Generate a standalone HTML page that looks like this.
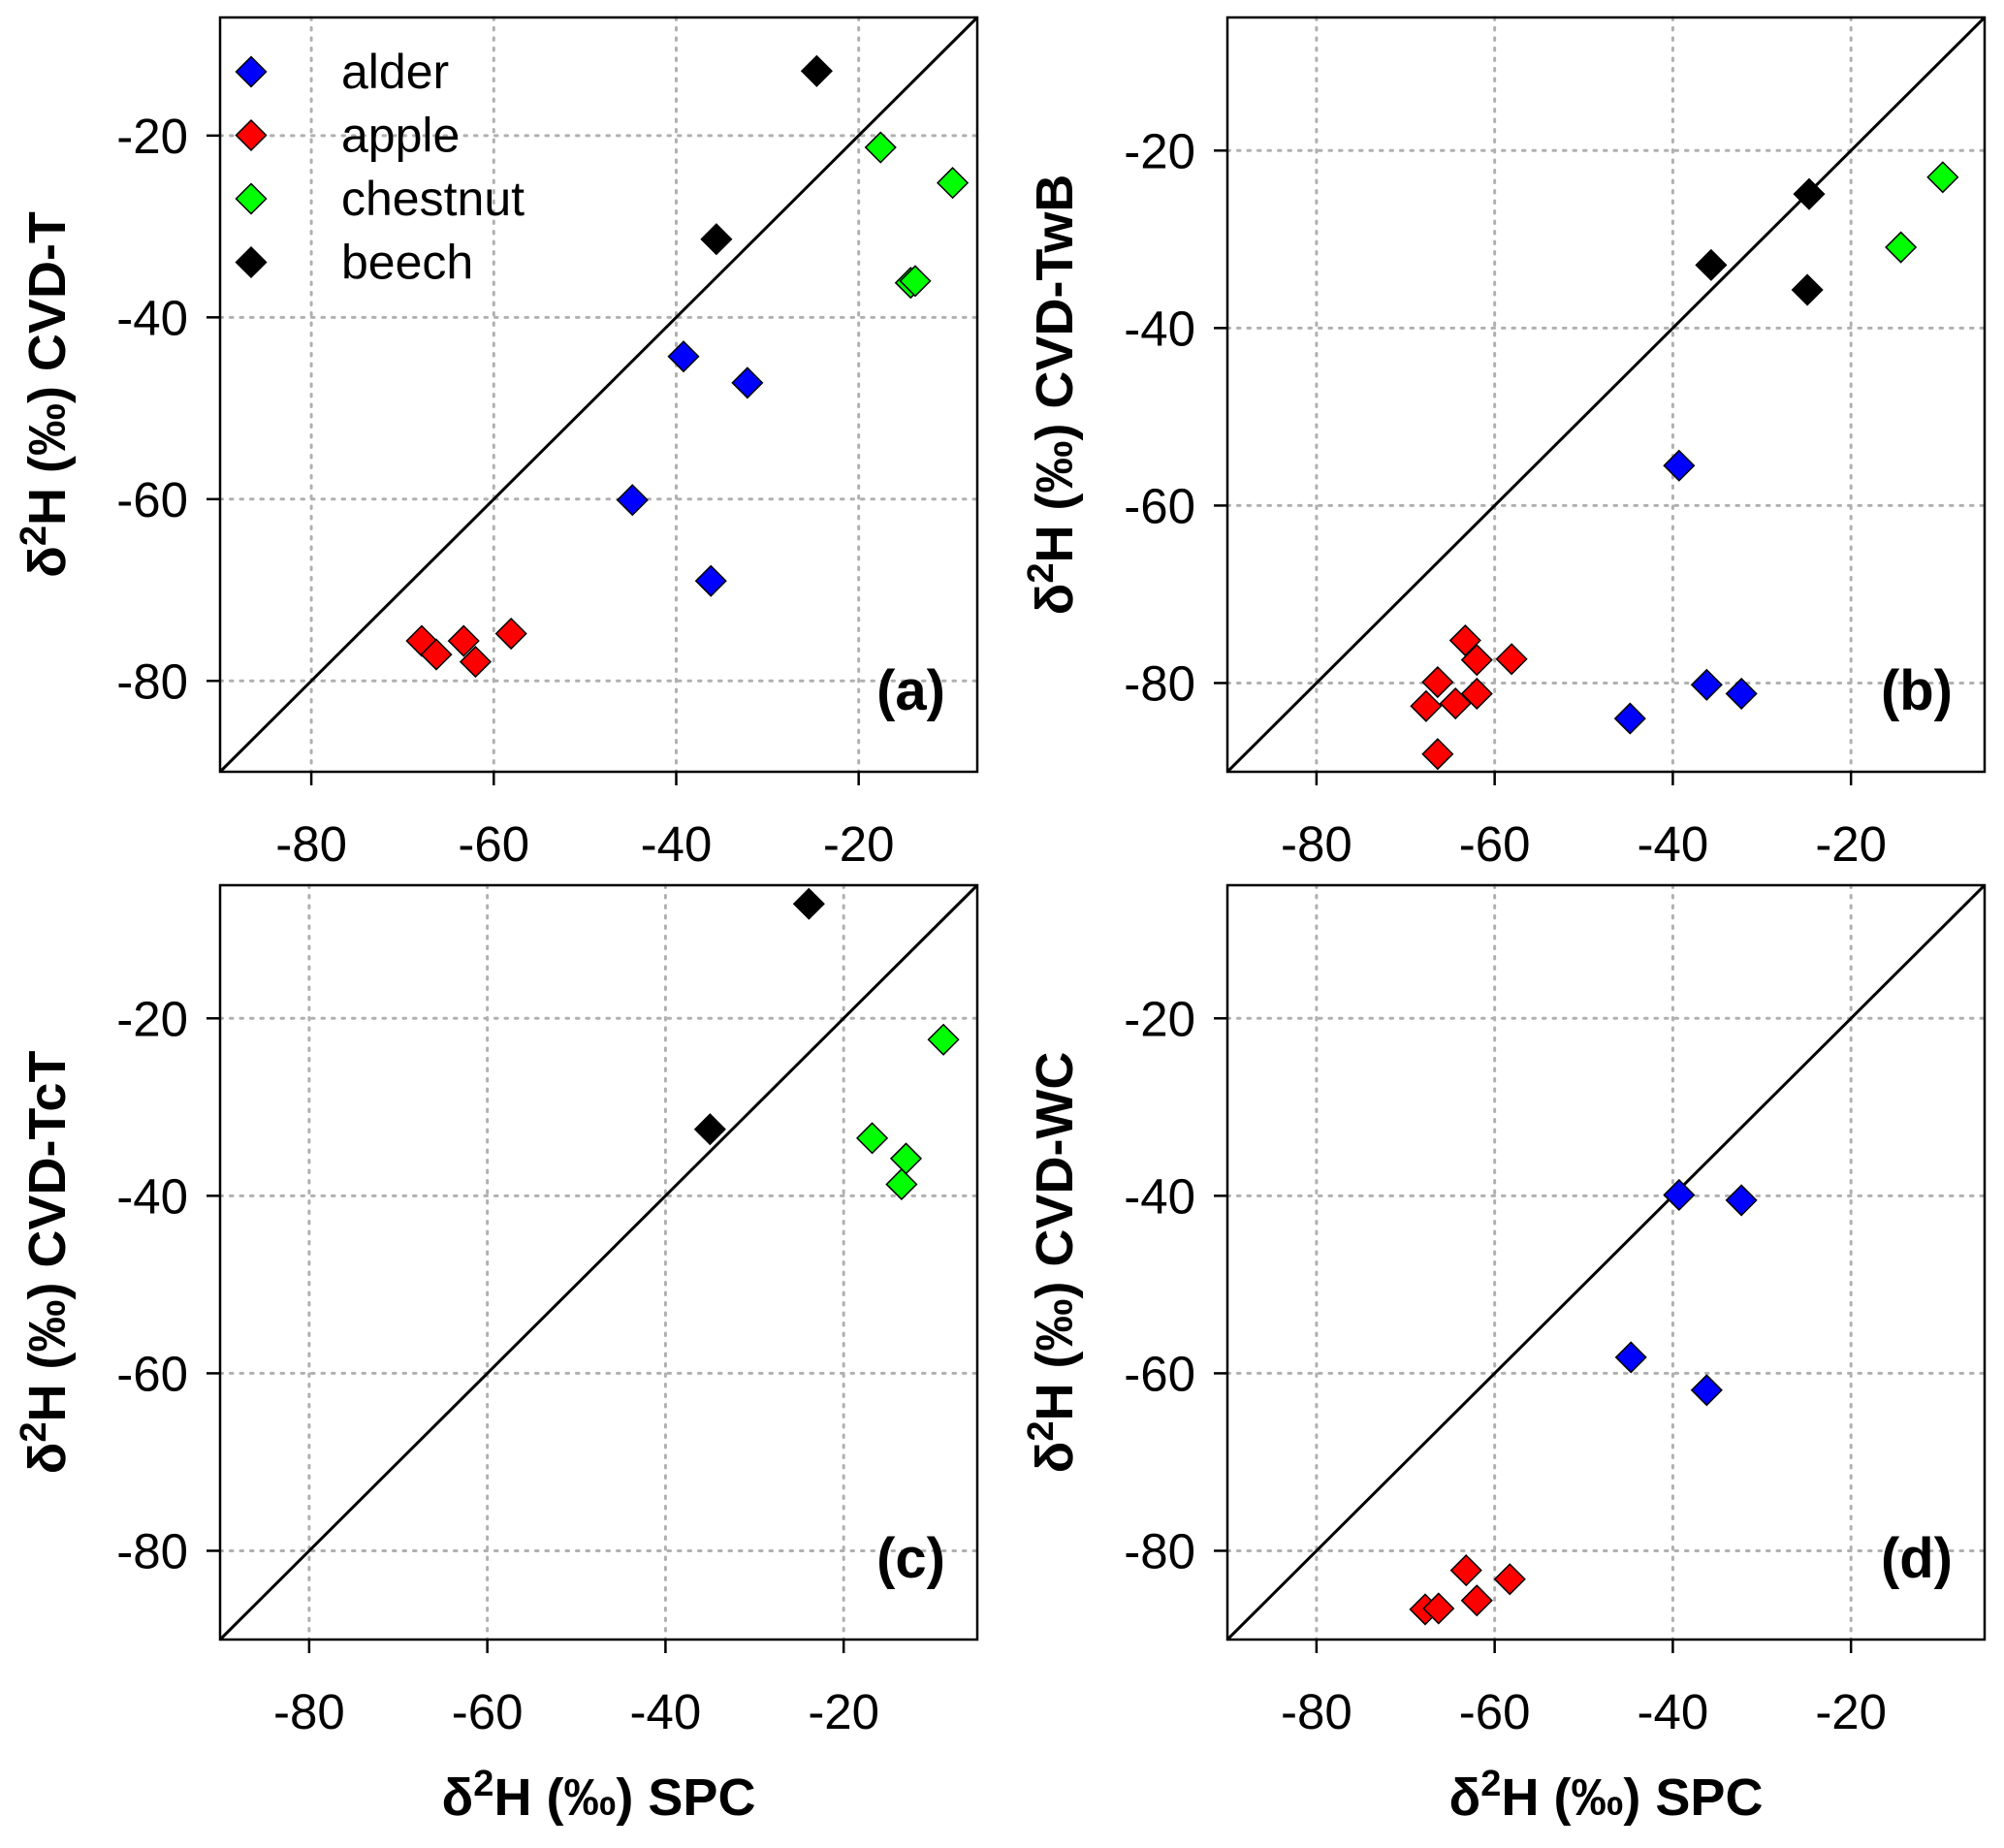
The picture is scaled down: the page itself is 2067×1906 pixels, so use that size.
<!DOCTYPE html>
<html><head><meta charset="utf-8"><style>
html,body{margin:0;padding:0;background:#fff;}
svg{display:block;font-family:"Liberation Sans",Arial,sans-serif;}
</style></head>
<body>
<svg id="chart" width="2067" height="1906" viewBox="0 0 2067 1906" xmlns="http://www.w3.org/2000/svg"></svg>
<script>
// ---- data ----
const panelAxisMin = [-90, -90, -90, -90];
const panelAxisMax = [-7, -5, -5, -5];
const tickValues = [-80, -60, -40, -20];
const tickLabels = ["-80", "-60", "-40", "-20"];
const speciesNames = ["alder", "apple", "chestnut", "beech"];
const speciesColors = ["#0000ff", "#ff0000", "#00ff00", "#000000"];
const panelLetters = ["(a)", "(b)", "(c)", "(d)"];
const panelYTitles = ["CVD-T", "CVD-TwB", "CVD-TcT", "CVD-WC"];

// Panel a: CVD-T
const aAlderX = [-39.2, -32.2, -44.8, -36.2];
const aAlderY = [-44.3, -47.2, -60.1, -69.0];
const aAppleX = [-67.9, -66.3, -63.3, -62.0, -58.1];
const aAppleY = [-75.6, -77.1, -75.6, -77.9, -74.8];
const aChestnutX = [-17.6, -9.7, -14.3, -13.8];
const aChestnutY = [-21.3, -25.2, -36.2, -36.0];
const aBeechX = [-24.6, -35.6];
const aBeechY = [-12.9, -31.4];

// Panel b: CVD-TwB
const bAlderX = [-39.3, -36.2, -32.3, -44.8];
const bAlderY = [-55.5, -80.2, -81.2, -84.0];
const bAppleX = [-63.3, -62.0, -58.1, -66.4, -62.0, -64.4, -67.7, -66.4];
const bAppleY = [-75.2, -77.4, -77.3, -79.9, -81.2, -82.3, -82.6, -88.0];
const bChestnutX = [-9.7, -14.4];
const bChestnutY = [-23.0, -30.9];
const bBeechX = [-24.7, -35.7, -24.9];
const bBeechY = [-24.9, -32.9, -35.7];

// Panel c: CVD-TcT
const cAlderX = [];
const cAlderY = [];
const cAppleX = [];
const cAppleY = [];
const cChestnutX = [-8.8, -16.8, -13.0, -13.5];
const cChestnutY = [-22.4, -33.5, -35.8, -38.7];
const cBeechX = [-23.9, -35.0];
const cBeechY = [-7.1, -32.5];

// Panel d: CVD-WC
const dAlderX = [-39.3, -32.3, -44.7, -36.2];
const dAlderY = [-39.9, -40.5, -58.2, -61.9];
const dAppleX = [-63.2, -58.3, -62.0, -67.8, -66.3];
const dAppleY = [-82.2, -83.2, -85.6, -86.6, -86.5];
const dChestnutX = [];
const dChestnutY = [];
const dBeechX = [];
const dBeechY = [];

const panelSeries = [
  [[aAlderX,aAlderY],[aAppleX,aAppleY],[aChestnutX,aChestnutY],[aBeechX,aBeechY]],
  [[bAlderX,bAlderY],[bAppleX,bAppleY],[bChestnutX,bChestnutY],[bBeechX,bBeechY]],
  [[cAlderX,cAlderY],[cAppleX,cAppleY],[cChestnutX,cChestnutY],[cBeechX,cBeechY]],
  [[dAlderX,dAlderY],[dAppleX,dAppleY],[dChestnutX,dChestnutY],[dBeechX,dBeechY]]
];

// ---- layout ----
const NS = "http://www.w3.org/2000/svg";
const svg = document.getElementById("chart");
const boxes = [
  {l:227, t:18, w:781, h:778},
  {l:1266, t:18, w:781, h:778},
  {l:227, t:913, w:781, h:778},
  {l:1266, t:913, w:781, h:778}
];
function mk(tag, attrs, parent){
  const e = document.createElementNS(NS, tag);
  for (const k in attrs) e.setAttribute(k, attrs[k]);
  (parent||svg).appendChild(e);
  return e;
}

boxes.forEach((b, p) => {
  const lo = panelAxisMin[p], hi = panelAxisMax[p];
  const xs = v => b.l + (v - lo) / (hi - lo) * b.w;
  const ys = v => b.t + b.h - (v - lo) / (hi - lo) * b.h;
  const g = mk("g", {});
  
  

  tickValues.forEach((v, i) => {
    const gx = mk("line", {x1:xs(v), x2:xs(v), y1:b.t, y2:b.t+b.h, stroke:"#b0b0b0", "stroke-width":3, "stroke-dasharray":"2.5,8", "stroke-linecap":"round"}, g);
    
    
    const gy = mk("line", {x1:b.l, x2:b.l+b.w, y1:ys(v), y2:ys(v), stroke:"#b0b0b0", "stroke-width":3, "stroke-dasharray":"2.5,8", "stroke-linecap":"round"}, g);
    
    
    const tx = mk("line", {x1:xs(v), x2:xs(v), y1:b.t+b.h, y2:b.t+b.h+14, stroke:"#000", "stroke-width":2.5}, g);
    
    
    const ty = mk("line", {x1:b.l-14, x2:b.l, y1:ys(v), y2:ys(v), stroke:"#000", "stroke-width":2.5}, g);
    
    
    const lx = mk("text", {x:xs(v), y:b.t+b.h+92, "text-anchor":"middle", "font-size":51}, g);
    lx.textContent = tickLabels[i];
    
    
    const ly = mk("text", {x:b.l-33, y:ys(v)+18, "text-anchor":"end", "font-size":51}, g);
    ly.textContent = tickLabels[i];
    
    
  });

  const dl = mk("line", {x1:xs(lo), y1:ys(lo), x2:xs(hi), y2:ys(hi), stroke:"#000", "stroke-width":3}, g);
  
  

  panelSeries[p].forEach((s, si) => {
    const [X, Y] = s;
    X.forEach((xv, k) => {
      const cx = xs(xv), cy = ys(Y[k]), r = 15.5;
      const pt = mk("polygon", {points:`${cx},${cy-r} ${cx+r},${cy} ${cx},${cy+r} ${cx-r},${cy}`, fill:speciesColors[si], stroke:"#000", "stroke-width":1.5}, g);
      
      
    });
  });

  const fr = mk("rect", {x:b.l, y:b.t, width:b.w, height:b.h, fill:"none", stroke:"#000", "stroke-width":2.5}, g);
  
  

  const pl = mk("text", {x:b.l+b.w-33, y:b.t+b.h-64, "text-anchor":"end", "font-size":58, "font-weight":"bold"}, g);
  pl.textContent = panelLetters[p];
  
  

  const cxT = b.l - 160, cyT = b.t + b.h/2;
  const yt = mk("text", {x:cxT, y:cyT, "text-anchor":"middle", "font-size":54, "font-weight":"bold", transform:`rotate(-90 ${cxT} ${cyT})`}, g);
  yt.innerHTML = 'δ<tspan dy="-20" font-size="38">2</tspan><tspan dy="20">H (‰) ' + panelYTitles[p] + '</tspan>';
  
  

  if (p >= 2) {
    const xt = mk("text", {x:b.l + b.w/2, y:1872, "text-anchor":"middle", "font-size":54, "font-weight":"bold"}, g);
    xt.innerHTML = 'δ<tspan dy="-20" font-size="38">2</tspan><tspan dy="20">H (‰) SPC</tspan>';
    
    
  }

  if (p === 0) {
    const lg = mk("g", {}, g);
    
    
    speciesNames.forEach((n, i) => {
      const cx = 259, cy = 74 + i*65.5, r = 15.5;
      const m = mk("polygon", {points:`${cx},${cy-r} ${cx+r},${cy} ${cx},${cy+r} ${cx-r},${cy}`, fill:speciesColors[i], stroke:"#000", "stroke-width":1.5}, lg);
      
      
      const t = mk("text", {x:352, y:cy+17, "font-size":50}, lg);
      t.textContent = n;
      
      
    });
  }
});
</script>
</body></html>
